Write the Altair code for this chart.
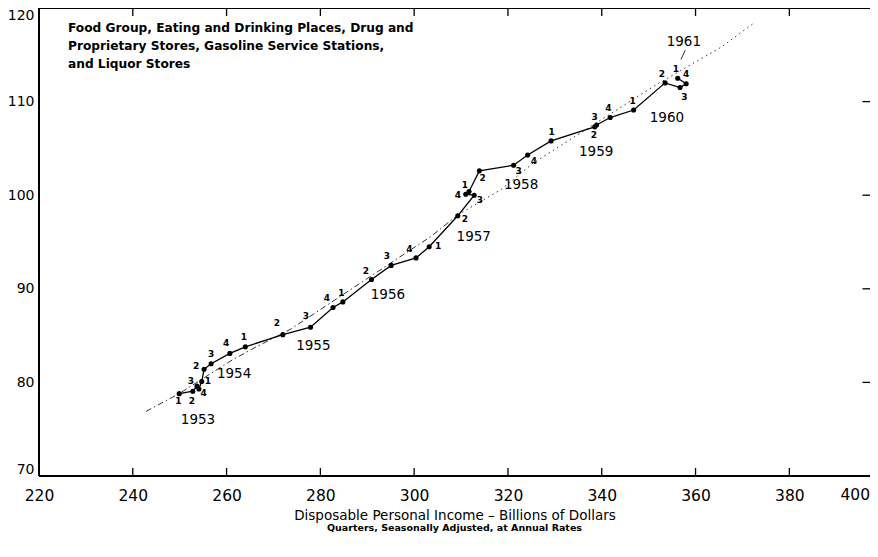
import altair as alt
import pandas as pd

# ---- data ----
years = ["1953"] * 4 + ["1954"] * 4 + ["1955"] * 4 + ["1956"] * 4 + ["1957"] * 4 + \
        ["1958"] * 4 + ["1959"] * 4 + ["1960"] * 4 + ["1961"]
quarters = ["1", "2", "3", "4"] * 8 + ["1"]
income = [249.9, 252.8, 253.7, 254.1, 254.7, 255.2, 256.7, 260.7, 264.0, 272.0, 277.9,
          282.7, 284.8, 290.9, 295.1, 300.4, 303.2, 309.3, 312.8, 311.0, 311.7, 313.9,
          321.2, 324.2, 329.2, 338.5, 338.9, 341.8, 346.8, 353.5, 356.7, 358.0, 356.2]
sales = [78.8, 79.06, 79.6, 79.3, 80.1, 81.4, 82.0, 83.1, 83.8, 85.1, 85.9, 88.0, 88.6,
         91.0, 92.5, 93.3, 94.5, 97.8, 100.0, 100.1, 100.4, 102.6, 103.2, 104.3, 105.8,
         107.3, 107.5, 108.3, 109.1, 112.0, 111.5, 111.9, 112.5]
# where each quarter number is written (data units)
qlabel_x = [249.7, 252.6, 252.4, 255.1, 256.0, 253.5, 256.7, 259.9, 263.7, 270.7, 276.9,
            281.4, 284.5, 289.7, 294.2, 299.0, 305.1, 310.8, 314.0, 309.3, 310.8, 314.6,
            322.3, 325.5, 329.3, 338.3, 338.5, 341.4, 346.6, 352.8, 357.6, 358.0, 355.8]
qlabel_y = [78.0, 78.0, 80.2, 78.9, 80.2, 81.8, 83.0, 84.2, 84.8, 86.3, 87.1, 89.0, 89.6,
            91.9, 93.5, 94.2, 94.6, 97.5, 99.5, 100.0, 101.1, 101.8, 102.6, 103.7, 106.7,
            106.4, 108.4, 109.3, 110.1, 112.9, 110.5, 113.0, 113.5]

year_names = ["1953", "1954", "1955", "1956", "1957", "1958", "1959", "1960", "1961"]
year_x = [253.9, 261.6, 278.5, 294.4, 312.7, 322.8, 338.8, 353.9, 357.5]
year_y = [76.0, 80.9, 83.9, 89.3, 95.5, 101.1, 104.6, 108.3, 116.4]

# relationship line (dash-dot lower part, dotted upper part)
trend_lo_x = [242.8, 249.9, 260.9, 265.2, 273.7, 303.6, 309.3]
trend_lo_y = [76.9, 78.8, 82.3, 83.5, 85.7, 95.6, 97.9]
trend_hi_x = [309.3, 318.5, 325.3, 344.7, 351.6, 365.4, 372.2]
trend_hi_y = [97.9, 100.6, 103.4, 109.6, 111.8, 115.8, 118.3]

pointer_x = [357.8, 356.9]
pointer_y = [115.5, 114.5]

x_ticks = [220, 240, 260, 280, 300, 320, 340, 360, 380]
inner_x_ticks = [240, 260, 280, 300, 320, 340, 360, 380]
y_ticks = [70, 80, 90, 100, 110, 120]
right_ticks = [80, 90, 100, 110]
edge_label = "400"   # the reference's last tick label, cut off at the right edge

X_MIN, X_VISIBLE_MAX = 220, 397.2
Y_MIN, Y_MAX = 70, 120

header = "Food Group, Eating and Drinking Places, Drug and\nProprietary Stores, Gasoline Service Stations,\nand Liquor Stores"

FONT = "DejaVu Sans"

pts = pd.DataFrame({"idx": list(range(len(income))), "year": years, "q": quarters,
                    "x": income, "y": sales, "lx": qlabel_x, "ly": qlabel_y})
yrs = pd.DataFrame({"t": year_names, "x": year_x, "y": year_y})
tlo = pd.DataFrame({"i": list(range(len(trend_lo_x))), "x": trend_lo_x, "y": trend_lo_y})
thi = pd.DataFrame({"i": list(range(len(trend_hi_x))), "x": trend_hi_x, "y": trend_hi_y})
ptr = pd.DataFrame({"i": [0, 1], "x": pointer_x, "y": pointer_y})
bt = pd.DataFrame({"x": inner_x_ticks, "y": [Y_MIN] * len(inner_x_ticks), "y2": [70.85] * len(inner_x_ticks)})
tt = pd.DataFrame({"x": inner_x_ticks, "y": [Y_MAX] * len(inner_x_ticks), "y2": [119.15] * len(inner_x_ticks)})
rt = pd.DataFrame({"y": right_ticks, "x": [395.6] * 4, "x2": [X_VISIBLE_MAX] * 4})
hframe = pd.DataFrame({"y": [Y_MIN, Y_MAX], "x": [X_MIN, X_MIN], "x2": [X_VISIBLE_MAX, X_VISIBLE_MAX]})
vframe = pd.DataFrame({"x": [X_MIN], "y": [Y_MIN], "y2": [Y_MAX]})
edge = pd.DataFrame({"x": [X_VISIBLE_MAX], "t": [edge_label]})

xs = alt.Scale(domain=[X_MIN, X_VISIBLE_MAX], nice=False, zero=False)
ys = alt.Scale(domain=[Y_MIN, Y_MAX], nice=False, zero=False)

x_axis = alt.Axis(values=x_ticks, grid=False, ticks=False, domain=False,
                  labelFont=FONT, labelFontSize=15.5, labelColor="black", labelPadding=12,
                  labelFlush=False,
                  title="Disposable  Personal  Income – Billions of Dollars",
                  titleFont=FONT, titleFontSize=13.5, titleFontWeight="normal",
                  titleColor="black", titlePadding=5)
y_axis = alt.Axis(values=y_ticks, grid=False, ticks=False, domain=False,
                  labelFont=FONT, labelFontSize=14, labelColor="black", labelPadding=5,
                  labelFlush=True, title=None)

base_x = alt.X("x:Q", scale=xs, axis=x_axis)
base_y = alt.Y("y:Q", scale=ys, axis=y_axis)

trend_lo = alt.Chart(tlo).mark_line(color="black", strokeWidth=0.8,
                                    strokeDash=[6, 3, 1.5, 3]).encode(
    x=base_x, y=base_y, order="i:Q")
trend_hi = alt.Chart(thi).mark_line(color="black", strokeWidth=0.8,
                                    strokeDash=[1.5, 3.5]).encode(
    x="x:Q", y="y:Q", order="i:Q")
path = alt.Chart(pts).mark_line(color="black", strokeWidth=1.3).encode(
    x="x:Q", y="y:Q", order="idx:Q")
dots = alt.Chart(pts).mark_circle(color="black", opacity=1, size=26).encode(
    x="x:Q", y="y:Q")
qtext = alt.Chart(pts).mark_text(font=FONT, fontSize=9, fontWeight="bold",
                                 color="black", align="center", baseline="middle").encode(
    x="lx:Q", y="ly:Q", text="q:N")
ytext = alt.Chart(yrs).mark_text(font=FONT, fontSize=13.5, color="black",
                                 align="center", baseline="middle").encode(
    x="x:Q", y="y:Q", text="t:N")
pointer = alt.Chart(ptr).mark_line(color="black", strokeWidth=0.8).encode(
    x="x:Q", y="y:Q", order="i:Q")
bticks = alt.Chart(bt).mark_rule(color="black", strokeWidth=1.3).encode(
    x="x:Q", y="y:Q", y2="y2:Q")
tticks = alt.Chart(tt).mark_rule(color="black", strokeWidth=1.3).encode(
    x="x:Q", y="y:Q", y2="y2:Q")
rticks = alt.Chart(rt).mark_rule(color="black", strokeWidth=1.3).encode(
    x="x:Q", x2="x2:Q", y="y:Q")
frame_h = alt.Chart(hframe).mark_rule(color="black", strokeWidth=2).encode(
    x="x:Q", x2="x2:Q", y="y:Q")
frame_v = alt.Chart(vframe).mark_rule(color="black", strokeWidth=2).encode(
    x="x:Q", y="y:Q", y2="y2:Q")
edge_text = alt.Chart(edge).mark_text(font=FONT, fontSize=15.5, color="black",
                                      align="right", baseline="top").encode(
    x="x:Q", y=alt.value(480), text="t:N")
head = alt.Chart(pd.DataFrame({"t": [header]})).mark_text(
    font=FONT, fontSize=12.2, fontWeight="bold", color="black", align="left",
    baseline="top", lineBreak="\n", lineHeight=18).encode(
    x=alt.value(29), y=alt.value(14), text="t:N")

chart = alt.layer(trend_lo, trend_hi, path, dots, qtext, ytext, pointer,
                  bticks, tticks, rticks, frame_h, frame_v, edge_text, head).properties(
    width=831, height=468,
    background="white",
    autosize=alt.AutoSizeParams(type="none"),
    padding={"left": 31, "top": 0, "right": 0, "bottom": 61},
    title=alt.TitleParams("Quarters, Seasonally Adjusted, at Annual Rates",
                          orient="bottom", anchor="middle", frame="group",
                          font=FONT, fontSize=9.5, fontWeight="bold", color="black",
                          offset=1),
).configure_view(stroke=None)

chart.save("out.html", embed_options={"renderer": "svg", "actions": False})
